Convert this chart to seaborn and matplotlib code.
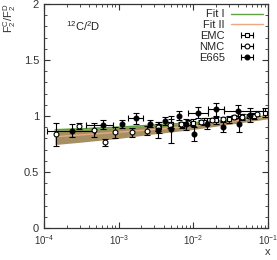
import numpy as np
import pandas as pd
import matplotlib
matplotlib.use('Agg')
import matplotlib.pyplot as plt
from matplotlib.ticker import MultipleLocator, FormatStrFormatter
import seaborn as sns

# fit curves (grid in x)
fit_x = [1.4e-4, 3e-4, 1e-3, 3e-3, 1e-2, 3e-2, 0.1]
fit1 = [0.875, 0.885, 0.900, 0.920, 0.940, 0.965, 1.000]
fit2 = [0.815, 0.830, 0.855, 0.880, 0.910, 0.950, 0.995]
band1_lo = [0.855, 0.865, 0.880, 0.900, 0.925, 0.955, 0.990]
band1_hi = [0.890, 0.895, 0.910, 0.925, 0.945, 0.970, 1.015]
band2_lo = [0.745, 0.765, 0.800, 0.840, 0.880, 0.925, 0.975]
band2_hi = [0.870, 0.880, 0.895, 0.915, 0.935, 0.965, 1.010]

# EMC
emc_x = [3.5e-3, 5e-3, 7e-3, 1e-2, 1.4e-2, 2e-2, 3e-2, 4.5e-2, 6.5e-2, 9e-2]
emc_y = [0.90, 0.93, 0.92, 0.94, 0.95, 0.96, 0.97, 0.99, 1.00, 1.03]
emc_err = [0.05, 0.04, 0.03, 0.03, 0.03, 0.03, 0.03, 0.03, 0.03, 0.04]

# NMC
nmc_x = [1.46e-4, 2.94e-4, 4.7e-4, 6.6e-4, 8.9e-4, 1.5e-3, 2.4e-3, 3.4e-3, 4.8e-3,
         6.9e-3, 8.5e-3, 1.25e-2, 1.75e-2, 2.5e-2, 3.5e-2, 4.5e-2, 5.5e-2, 7e-2]
nmc_y = [0.835, 0.91, 0.875, 0.765, 0.855, 0.855, 0.87, 0.90, 0.92,
         0.93, 0.94, 0.945, 0.965, 0.97, 0.99, 0.995, 1.00, 1.02]
nmc_err = [0.10, 0.03, 0.06, 0.03, 0.05, 0.04, 0.04, 0.03, 0.03,
           0.02, 0.02, 0.02, 0.02, 0.02, 0.02, 0.02, 0.02, 0.02]

# E665
e665_x = [2.35e-4, 6.1e-4, 1.1e-3, 1.7e-3, 2.6e-3, 3.4e-3, 4.2e-3, 5.0e-3, 6.4e-3,
          8.0e-3, 1.02e-2, 1.15e-2, 1.5e-2, 2.0e-2, 2.45e-2, 4.0e-2, 4.1e-2, 5.8e-2]
e665_y = [0.87, 0.92, 0.93, 0.98, 0.93, 0.875, 0.955, 0.88, 1.00,
          0.925, 0.84, 1.03, 0.93, 1.06, 0.905, 1.04, 0.93, 1.01]
e665_err = [0.06, 0.04, 0.035, 0.05, 0.03, 0.07, 0.04, 0.12, 0.04,
            0.05, 0.06, 0.05, 0.05, 0.06, 0.05, 0.06, 0.07, 0.06]
e665_xlo = [1.1e-4, 3.6e-4, 1.1e-3, 1.33e-3, 2.6e-3, 3.4e-3, 4.2e-3, 5.0e-3, 6.4e-3,
            8.0e-3, 1.02e-2, 8.5e-3, 1.5e-2, 1.55e-2, 2.45e-2, 2.6e-2, 4.1e-2, 5.8e-2]
e665_xhi = [4.8e-4, 8.4e-4, 1.1e-3, 2.1e-3, 2.6e-3, 3.4e-3, 4.2e-3, 5.0e-3, 6.4e-3,
            8.0e-3, 1.02e-2, 1.55e-2, 1.5e-2, 2.6e-2, 2.45e-2, 8.5e-2, 4.1e-2, 5.8e-2]

sns.set_style('ticks')
plt.rcParams['font.family'] = ['Liberation Sans', 'DejaVu Sans']
plt.rcParams['mathtext.fontset'] = 'custom'
plt.rcParams['mathtext.rm'] = 'Liberation Sans'
plt.rcParams['mathtext.it'] = 'Liberation Sans'

fig = plt.figure(figsize=(2.77, 2.60), dpi=100)
ax = fig.add_axes([0.159, 0.123, 0.809, 0.862])

green = '#5fa040'
orange = '#e8a882'

ax.fill_between(fit_x, band2_lo, band2_hi, color='#8a6a30', alpha=0.75, lw=0)
ax.fill_between(fit_x, band1_lo, band1_hi, color='#7a9a40', alpha=0.7, lw=0)

fits = pd.DataFrame({'x': fit_x * 2, 'y': fit1 + fit2,
                     'fit': ['Fit I'] * len(fit_x) + ['Fit II'] * len(fit_x)})
sns.lineplot(data=fits, x='x', y='y', hue='fit', palette=[green, orange],
             lw=1.0, ax=ax, legend=False)

ekw = dict(ecolor='black', elinewidth=0.8, capsize=2, capthick=0.8, ls='none',
           mec='black', mew=0.8, ms=3.5)
ax.errorbar(emc_x, emc_y, yerr=emc_err, fmt='s', mfc='white', **ekw)
ax.errorbar(nmc_x, nmc_y, yerr=nmc_err, fmt='o', mfc='white', **ekw)
xe = [np.array(e665_x) - np.array(e665_xlo), np.array(e665_xhi) - np.array(e665_x)]
ax.errorbar(e665_x, e665_y, yerr=e665_err, xerr=xe, fmt='o', mfc='black', **ekw)

# legend proxies
h1, = ax.plot([], [], color=green, lw=1.0, label='Fit I')
h2, = ax.plot([], [], color=orange, lw=1.0, label='Fit II')
h3 = ax.errorbar([np.nan], [np.nan], xerr=[np.nan], fmt='s', mfc='white', label='EMC', **ekw)
h4 = ax.errorbar([np.nan], [np.nan], xerr=[np.nan], fmt='o', mfc='white', label='NMC', **ekw)
h5 = ax.errorbar([np.nan], [np.nan], xerr=[np.nan], fmt='o', mfc='black', label='E665', **ekw)
ax.legend(handles=[h1, h2, h3, h4, h5], loc='upper right', frameon=False,
          markerfirst=False, fontsize=8, handlelength=2.8, labelspacing=0.08,
          borderaxespad=0.2, borderpad=0.3, handletextpad=0.6)

ax.set_xscale('log')
ax.set_xlim(1e-4, 1e-1)
ax.set_ylim(0, 2)
ax.yaxis.set_major_locator(MultipleLocator(0.5))
ax.yaxis.set_minor_locator(MultipleLocator(0.1))
ax.yaxis.set_major_formatter(FormatStrFormatter('%g'))
ax.tick_params(which='both', direction='in', top=True, right=True,
               labelsize=8, colors='#333333', labelcolor='#333333')
ax.tick_params(which='major', length=4, width=0.8)
ax.tick_params(which='minor', length=2, width=0.6)
ax.tick_params(axis='x', which='major', labelsize=7)
for s in ax.spines.values():
    s.set_color('#333333')
    s.set_linewidth(0.9)
ax.set_xlabel('')
ax.set_ylabel('')

ax.text(0.1, 0.88, r'$^{12}$C/$^{2}$D', transform=ax.transAxes, fontsize=8, color='#222222')
fig.text(0.035, 0.99, r'F$_2^{\rm C}$/F$_2^{\rm D}$', rotation=90, ha='center', va='top',
         fontsize=8, color='#333333')
fig.text(0.965, 0.01, 'x', ha='center', va='bottom', fontsize=8, color='#333333')

fig.savefig('out.png', dpi=100)
